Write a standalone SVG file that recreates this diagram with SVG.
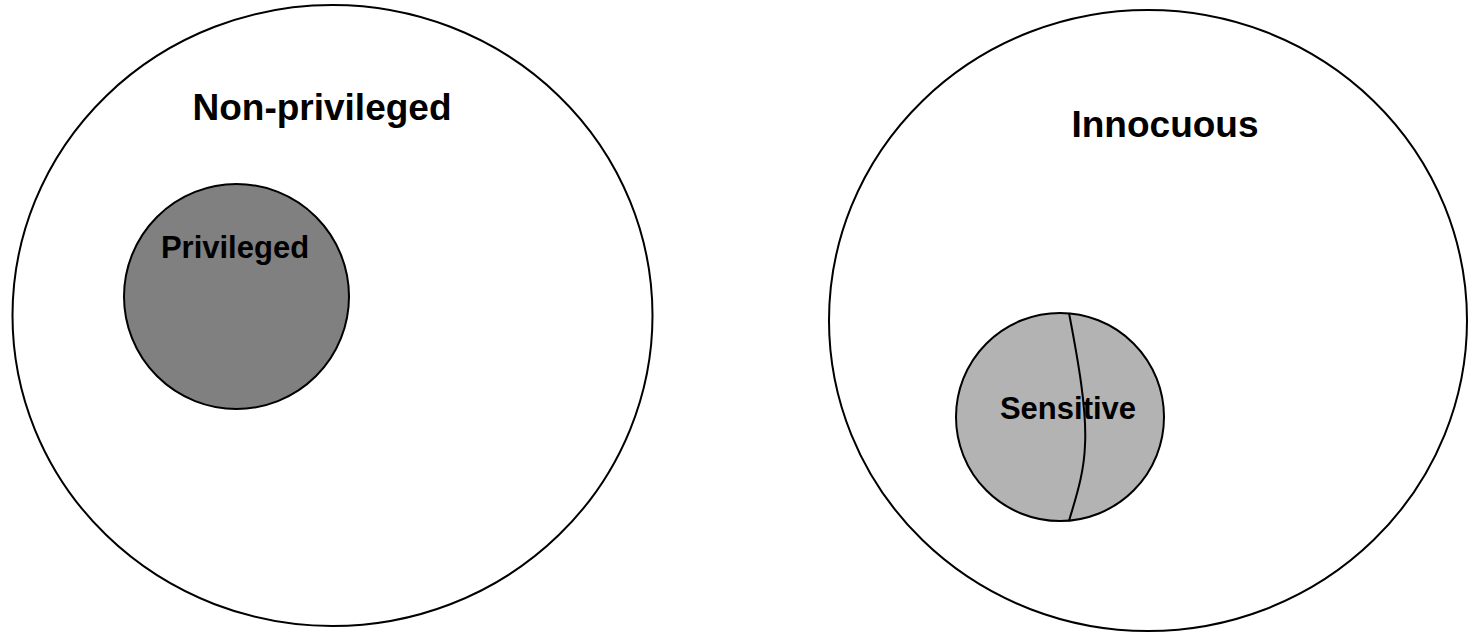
<svg xmlns="http://www.w3.org/2000/svg" width="1468" height="633" viewBox="0 0 1468 633">
  <style>
    .outline { stroke: #000; stroke-width: 2; }
    .outer { fill: #fff; }
    .priv { fill: #808080; }
    .sens { fill: #b3b3b3; }
    .label { font-family: "Liberation Sans", Arial, Helvetica, sans-serif; font-weight: bold; fill: #000; text-anchor: middle; }
    .big { font-size: 37px; }
    .small { font-size: 31px; }
  </style>
  <rect width="1468" height="633" fill="#fff"/>

  <!-- Left set: privileged inside non-privileged -->
  <g id="non-privileged">
    <ellipse class="outer outline" cx="332.5" cy="315.5" rx="320" ry="310.5"/>
    <text class="label big" x="322" y="120">Non-privileged</text>
  </g>
  <g id="privileged">
    <circle class="priv outline" cx="236.5" cy="296.5" r="112.5"/>
    <text class="label small" x="235" y="258">Privileged</text>
  </g>

  <!-- Right set: sensitive inside innocuous -->
  <g id="innocuous">
    <ellipse class="outer outline" cx="1148" cy="320.5" rx="319" ry="310.5"/>
    <text class="label big" x="1165" y="137">Innocuous</text>
  </g>
  <g id="sensitive">
    <circle class="sens outline" cx="1060" cy="417" r="104"/>
    <text class="label small" x="1068" y="419">Sensitive</text>
  </g>

  <g id="connectors">
    <!-- dividing line across the sensitive set -->
    <path class="outline" fill="none" d="M1069,313 C1078,360 1087,410 1085,445 C1084,475 1075,500 1069,521"/>
  </g>
</svg>
